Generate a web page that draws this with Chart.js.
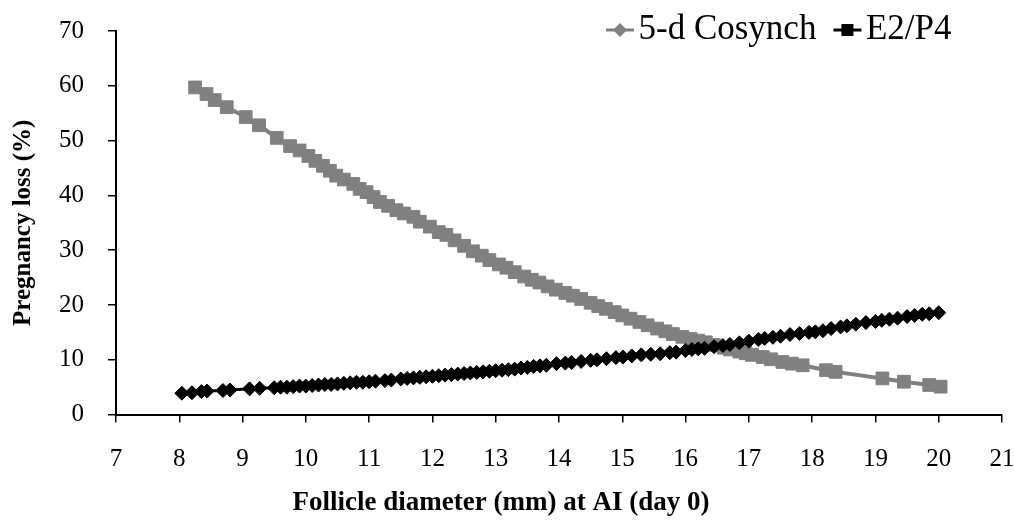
<!DOCTYPE html>
<html>
<head>
<meta charset="utf-8">
<script src="https://cdn.jsdelivr.net/npm/chart.js@4.4.1/dist/chart.umd.min.js"></script>
<style>
html, body { margin: 0; padding: 0; background: #fff; }
#wrap { width: 1014px; height: 524px; }
</style>
</head>
<body>
<div id="wrap"><canvas id="lossChart"></canvas></div>
<script>
const seriesNames = ['5-d Cosynch', 'E2/P4'];

// 5-d Cosynch
const cosynchDiameter = [8.25, 8.43, 8.56, 8.75, 9.05, 9.26, 9.54, 9.75, 9.9, 10.04, 10.15, 10.27, 10.38, 10.48, 10.6, 10.75, 10.85, 10.96, 11.07, 11.17, 11.3, 11.43, 11.55, 11.7, 11.8, 11.96, 12.1, 12.22, 12.35, 12.5, 12.64, 12.78, 12.9, 13.05, 13.17, 13.3, 13.45, 13.57, 13.69, 13.82, 13.95, 14.1, 14.22, 14.35, 14.5, 14.62, 14.74, 14.88, 15.0, 15.13, 15.27, 15.4, 15.55, 15.68, 15.8, 15.95, 16.08, 16.2, 16.32, 16.45, 16.6, 16.7, 16.85, 16.95, 17.05, 17.22, 17.35, 17.53, 17.68, 17.85, 18.22, 18.37, 19.11, 19.45, 19.85, 20.03];
const cosynchLoss = [59.7, 58.5, 57.4, 56.1, 54.3, 52.8, 50.5, 49.0, 48.2, 47.2, 46.3, 45.4, 44.5, 43.6, 42.9, 42.1, 41.2, 40.6, 39.7, 38.8, 38.1, 37.3, 36.7, 36.1, 35.2, 34.3, 33.3, 32.8, 31.8, 30.8, 29.8, 29.0, 28.2, 27.4, 26.8, 26.0, 25.2, 24.6, 24.1, 23.4, 22.8, 22.2, 21.7, 21.1, 20.4, 19.8, 19.3, 18.7, 18.1, 17.5, 16.9, 16.3, 15.7, 15.2, 14.7, 14.2, 13.8, 13.5, 13.2, 12.7, 12.2, 11.9, 11.5, 11.2, 10.9, 10.5, 10.1, 9.6, 9.3, 9.0, 8.1, 7.8, 6.6, 6.0, 5.4, 5.1];

// E2/P4
const e2p4Diameter = [8.04, 8.2, 8.35, 8.44, 8.69, 8.8, 9.11, 9.27, 9.5, 9.6, 9.7, 9.8, 9.9, 10.0, 10.1, 10.2, 10.3, 10.4, 10.5, 10.6, 10.7, 10.8, 10.9, 11.0, 11.1, 11.25, 11.35, 11.5, 11.6, 11.7, 11.8, 11.9, 12.0, 12.1, 12.2, 12.3, 12.4, 12.5, 12.6, 12.7, 12.8, 12.9, 13.0, 13.1, 13.2, 13.3, 13.4, 13.5, 13.6, 13.7, 13.8, 13.96, 14.1, 14.2, 14.35, 14.5, 14.6, 14.75, 14.9, 15.01, 15.15, 15.3, 15.45, 15.6, 15.75, 15.85, 16.0, 16.1, 16.2, 16.3, 16.45, 16.59, 16.7, 16.85, 17.0, 17.15, 17.25, 17.38, 17.5, 17.65, 17.8, 17.95, 18.05, 18.17, 18.3, 18.45, 18.55, 18.69, 18.85, 19.0, 19.1, 19.22, 19.35, 19.5, 19.62, 19.74, 19.85, 20.0];
const e2p4Loss = [3.9, 4.0, 4.2, 4.3, 4.4, 4.5, 4.7, 4.8, 4.9, 5.0, 5.0, 5.1, 5.2, 5.2, 5.3, 5.4, 5.5, 5.5, 5.6, 5.7, 5.8, 5.9, 5.9, 6.0, 6.1, 6.2, 6.3, 6.5, 6.6, 6.7, 6.8, 6.9, 7.0, 7.1, 7.2, 7.3, 7.4, 7.5, 7.6, 7.7, 7.8, 7.9, 8.0, 8.1, 8.2, 8.3, 8.5, 8.6, 8.8, 8.9, 9.0, 9.3, 9.4, 9.5, 9.7, 9.9, 10.0, 10.2, 10.4, 10.5, 10.7, 10.9, 11.0, 11.1, 11.3, 11.4, 11.7, 11.9, 12.0, 12.1, 12.4, 12.6, 12.8, 13.1, 13.4, 13.7, 13.9, 14.1, 14.3, 14.6, 14.8, 15.0, 15.1, 15.3, 15.7, 16.0, 16.2, 16.5, 16.8, 17.0, 17.2, 17.4, 17.6, 17.9, 18.1, 18.3, 18.4, 18.6];

const xTickValues = [7, 8, 9, 10, 11, 12, 13, 14, 15, 16, 17, 18, 19, 20, 21];
const yTickValues = [0, 10, 20, 30, 40, 50, 60, 70];

const serif = "'Liberation Serif', 'Times New Roman', serif";
const grey = '#808080';
const legendFontSize = 35;
const legendPadding = 30;

function toXY(xs, ys) {
    return xs.map((x, i) => ({ x: x, y: ys[i] }));
}

// legend marker: short line with the marker in the middle (Excel style)
function legendMarker(color, shape) {
    const c = document.createElement('canvas');
    c.width = 32;
    c.height = 18;
    const g = c.getContext('2d');
    g.strokeStyle = color;
    g.fillStyle = color;
    g.lineWidth = 3;
    g.beginPath();
    g.moveTo(2, 9);
    g.lineTo(30, 9);
    g.stroke();
    g.beginPath();
    if (shape === 'diamond') {
        g.moveTo(16, 2); g.lineTo(23, 9); g.lineTo(16, 16); g.lineTo(9, 9);
    } else {
        g.rect(10, 3, 12, 12);
    }
    g.closePath();
    g.fill();
    return c;
}
const legendMarkers = [legendMarker(grey, 'diamond'), legendMarker('#000', 'square')];

// legend height is fontSize + padding + 10; pull the plot back up under it
const legendHeight = legendFontSize + legendPadding + 10;

// put the legend where Excel put it, over the top right of the plot
const legendPlacer = {
    id: 'legendPlacer',
    afterLayout(chart) {
        const lg = chart.legend;
        if (!lg || !lg.lineWidths) return;
        const dx = 619 - (lg.right - lg.lineWidths[0]);
        lg.left += dx;
        lg.right += dx;
        const top = 30 - legendPadding - legendFontSize / 2;
        lg.top = top;
        lg.bottom = top + lg.height;
    }
};

const ctx = document.getElementById('lossChart').getContext('2d');
const lossChart = new Chart(ctx, {
    type: 'line',
    data: {
        datasets: [
        {
            label: seriesNames[0],
            data: toXY(cosynchDiameter, cosynchLoss),
            borderColor: grey,
            backgroundColor: grey,
            borderWidth: 4,
            pointStyle: 'rect',
            pointRadius: 9,
            pointBorderWidth: 1,
            order: 1
        },
        {
            label: seriesNames[1],
            data: toXY(e2p4Diameter, e2p4Loss),
            borderColor: '#000',
            backgroundColor: '#000',
            borderWidth: 3,
            pointStyle: 'rectRot',
            pointRadius: 7,
            pointBorderWidth: 1,
            order: 0
        }
    ]
    },
    options: {
        responsive: true,
        maintainAspectRatio: false,
        animation: false,
        layout: { padding: { top: 31 - legendHeight, right: 12, bottom: 0, left: 0 } },
        elements: { line: { tension: 0 } },
        plugins: {
            tooltip: { enabled: false },
            legend: {
                position: 'top',
                align: 'end',
                labels: {
                    usePointStyle: true,
                    boxWidth: 2,
                    padding: legendPadding,
                    color: '#000',
                    font: { family: serif, size: legendFontSize },
                    generateLabels: (chart) => chart.data.datasets.map((ds, i) => ({
                        text: ds.label,
                        pointStyle: legendMarkers[i],
                        fillStyle: ds.borderColor,
                        strokeStyle: ds.borderColor,
                        lineWidth: 0,
                        hidden: false,
                        datasetIndex: i,
                        fontColor: '#000'
                    }))
                }
            },
            title: {
                display: true,
                position: 'bottom',
                text: 'Follicle diameter (mm) at AI (day 0)',
                color: '#000',
                font: { family: serif, size: 27, weight: 'bold' },
                padding: { top: 0, bottom: 5 }
            }
        },
        scales: {
            x: {
                type: 'linear',
                min: 7,
                max: 21,
                afterBuildTicks: (scale) => { scale.ticks = xTickValues.map(v => ({ value: v })); },
                afterFit: (scale) => { scale.height = 72; scale.paddingLeft = 0; scale.paddingRight = 0; },
                border: { display: true, color: '#000', width: 2 },
                grid: { drawOnChartArea: false, drawTicks: true, tickLength: 8, color: '#000', lineWidth: 1.5 },
                ticks: { color: '#000', padding: 22, maxRotation: 0, font: { family: serif, size: 25 } }
            },
            y: {
                min: 0,
                max: 70,
                afterBuildTicks: (scale) => { scale.ticks = yTickValues.map(v => ({ value: v })); },
                afterFit: (scale) => { scale.width = 116; scale.paddingTop = 0; scale.paddingBottom = 0; },
                border: { display: true, color: '#000', width: 2 },
                grid: { drawOnChartArea: false, drawTicks: true, tickLength: 8, color: '#000', lineWidth: 1.5 },
                ticks: { color: '#000', padding: 24, font: { family: serif, size: 25 } },
                title: {
                    display: true,
                    text: 'Pregnancy loss (%)',
                    color: '#000',
                    padding: { top: 9, bottom: 0 },
                    font: { family: serif, size: 25, weight: 'bold' }
                }
            }
        }
    },
    plugins: [legendPlacer]
});
</script>
</body>
</html>
